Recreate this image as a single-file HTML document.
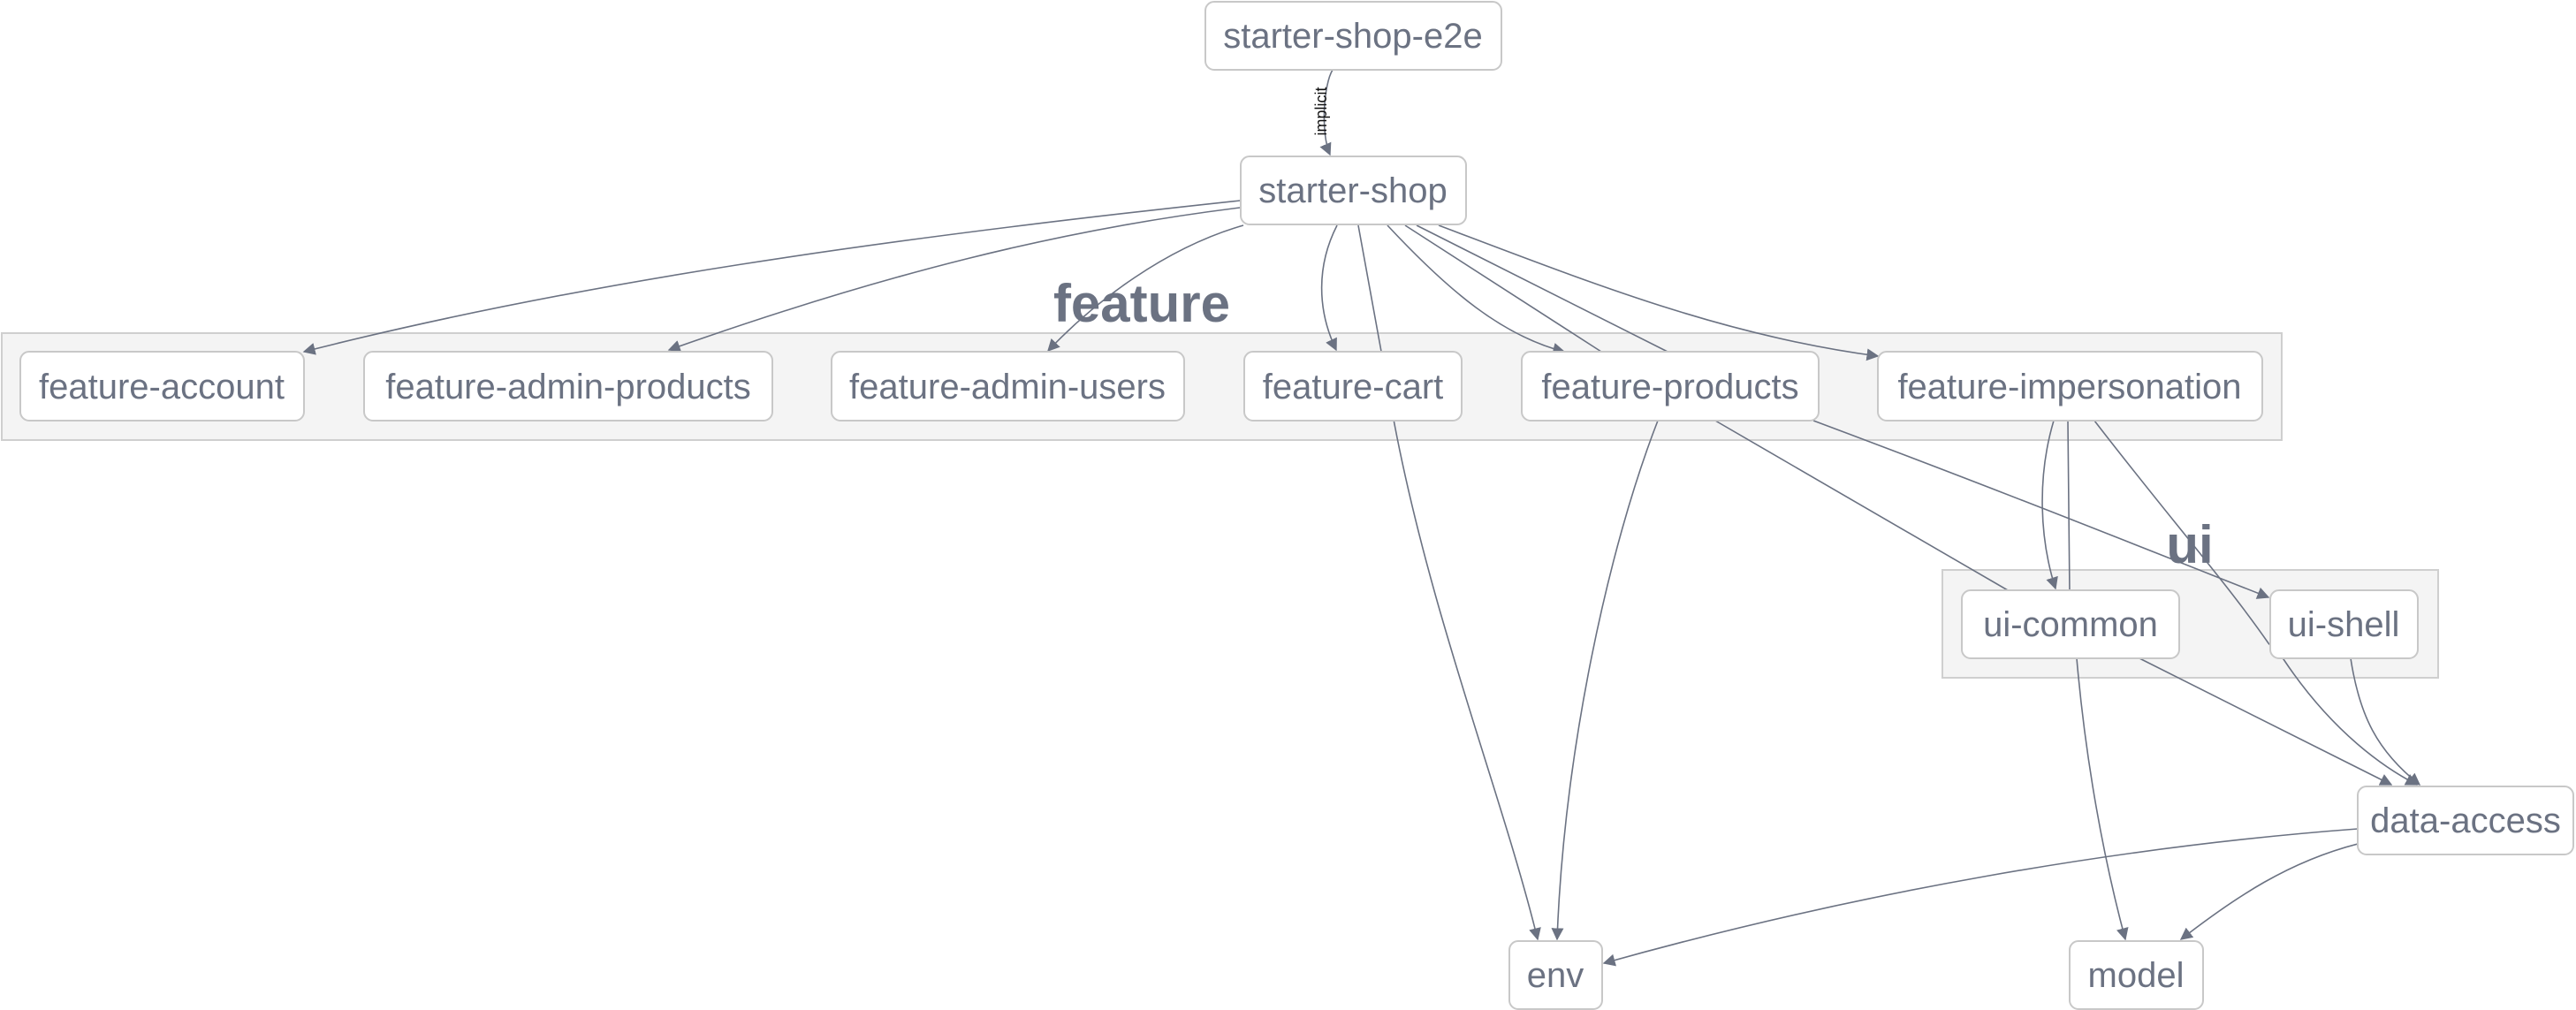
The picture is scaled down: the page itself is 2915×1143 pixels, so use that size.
<!DOCTYPE html>
<html><head><meta charset="utf-8"><style>
html,body{margin:0;padding:0;background:#fff;}
svg{display:block}
text{font-family:"Liberation Sans",sans-serif;fill:#6b7282}
</style></head><body>
<svg width="2915" height="1143" viewBox="0 0 2915 1143" xmlns="http://www.w3.org/2000/svg">
<defs>
<marker id="b" viewBox="0 0 10 10" refX="9" refY="5" markerWidth="14" markerHeight="14" markerUnits="userSpaceOnUse" orient="auto">
<path d="M0,0 L10,5 L0,10 z" fill="#6b7282"/></marker>
</defs>
<!-- groups -->
<rect x="2" y="377" width="2580" height="121" fill="#f4f4f4" stroke="#cfcfcf" stroke-width="2"/>
<text x="1292" y="364" font-size="60" font-weight="bold" text-anchor="middle">feature</text>
<rect x="2198" y="645" width="561" height="122" fill="#f4f4f4" stroke="#cfcfcf" stroke-width="2"/>
<text x="2478" y="637" font-size="60" font-weight="bold" text-anchor="middle">ui</text>
<!-- edges -->
<g fill="none" stroke="#6b7282" stroke-width="1.6">
<path d="M1508,79 C1498,95 1494,150 1505,175" marker-end="url(#b)"/>
<path d="M1403,227 C1000,270 650,320 344,398" marker-end="url(#b)"/>
<path d="M1403,235 C1200,260 1000,310 757,396" marker-end="url(#b)"/>
<path d="M1407,255 C1320,280 1240,340 1186,397" marker-end="url(#b)"/>
<path d="M1513,255 C1490,300 1490,350 1512,396" marker-end="url(#b)"/>
<path d="M1537,255 L1578,480 C1620,700 1700,900 1740,1063" marker-end="url(#b)"/>
<path d="M1570,255 C1640,330 1700,380 1770,398" marker-end="url(#b)"/>
<path d="M1590,255 L1812,398 L1941,476 L2272,668 L2421,745 L2706,888" marker-end="url(#b)"/>
<path d="M1603,255 L1887,398 L1876,476 C1820,620 1770,850 1762,1063" marker-end="url(#b)"/>
<path d="M1628,255 C1800,320 1950,380 2125,403" marker-end="url(#b)"/>
<path d="M2052,476 C2250,550 2400,610 2567,676" marker-end="url(#b)"/>
<path d="M2324,476 C2305,540 2308,610 2326,666" marker-end="url(#b)"/>
<path d="M2340,476 L2342,672 L2350,745 C2360,860 2380,970 2405,1063" marker-end="url(#b)"/>
<path d="M2370,476 C2450,580 2520,660 2567,728 L2584,746 C2640,830 2700,870 2735,888" marker-end="url(#b)"/>
<path d="M2660,745 C2670,810 2690,850 2738,888" marker-end="url(#b)"/>
<path d="M2668,938 C2400,958 2100,1010 1815,1090" marker-end="url(#b)"/>
<path d="M2668,955 C2590,975 2530,1015 2468,1063" marker-end="url(#b)"/>
</g>
<text transform="translate(1501,126) rotate(-90)" font-size="18" text-anchor="middle" style="fill:#111">implicit</text>
<!-- nodes -->
<g fill="#fff" stroke="#c8c8c8" stroke-width="2">
<rect x="1364" y="2" width="335" height="77" rx="10"/>
<rect x="1404" y="177" width="255" height="77" rx="10"/>
<rect x="23" y="398" width="321" height="78" rx="10"/>
<rect x="412" y="398" width="462" height="78" rx="10"/>
<rect x="941" y="398" width="399" height="78" rx="10"/>
<rect x="1408" y="398" width="246" height="78" rx="10"/>
<rect x="1722" y="398" width="336" height="78" rx="10"/>
<rect x="2125" y="398" width="435" height="78" rx="10"/>
<rect x="2220" y="668" width="246" height="77" rx="10"/>
<rect x="2569" y="668" width="167" height="77" rx="10"/>
<rect x="2668" y="890" width="244" height="77" rx="10"/>
<rect x="1708" y="1065" width="105" height="77" rx="10"/>
<rect x="2342" y="1065" width="151" height="77" rx="10"/>
</g>
<g font-size="40" text-anchor="middle">
<text x="1531" y="54">starter-shop-e2e</text>
<text x="1531" y="229">starter-shop</text>
<text x="183" y="451">feature-account</text>
<text x="643" y="451">feature-admin-products</text>
<text x="1140" y="451">feature-admin-users</text>
<text x="1531" y="451">feature-cart</text>
<text x="1890" y="451">feature-products</text>
<text x="2342" y="451">feature-impersonation</text>
<text x="2343" y="720">ui-common</text>
<text x="2652" y="720">ui-shell</text>
<text x="2790" y="942">data-access</text>
<text x="1760" y="1117">env</text>
<text x="2417" y="1117">model</text>
</g>
</svg>
</body></html>
